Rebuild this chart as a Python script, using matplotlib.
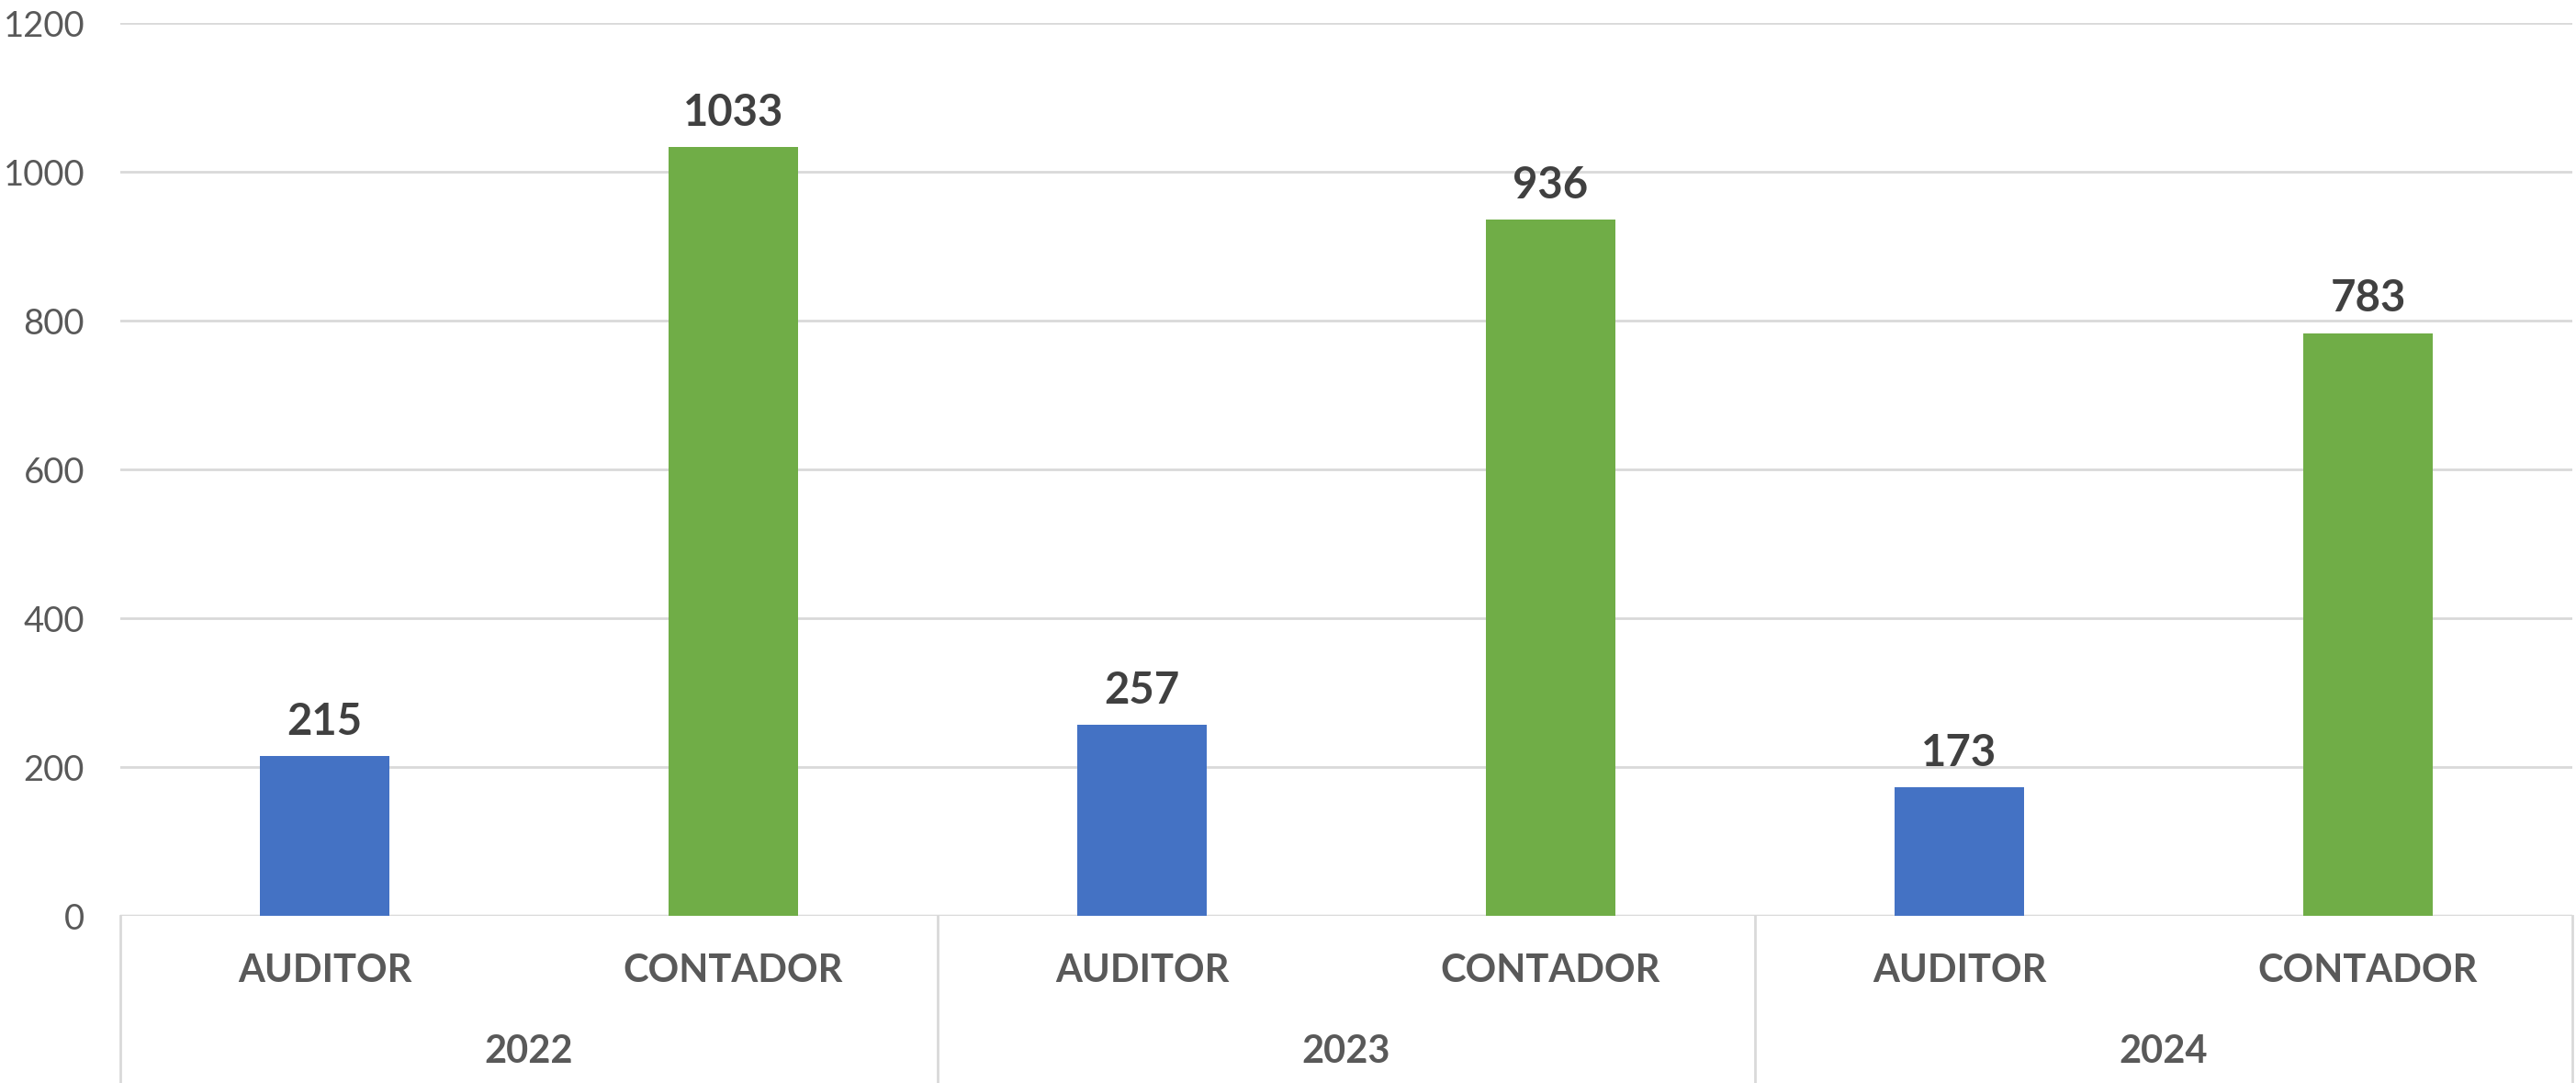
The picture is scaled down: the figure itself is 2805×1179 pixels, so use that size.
import matplotlib.pyplot as plt
import numpy as np

years = ['2022', '2023', '2024']
roles = ['AUDITOR', 'CONTADOR']
auditor = [215, 257, 173]
contador = [1033, 936, 783]
yticks = [0, 200, 400, 600, 800, 1000, 1200]

plt.rcParams['font.family'] = ['Lato', 'DejaVu Sans']

fig = plt.figure(figsize=(28.05, 11.79), dpi=100)
ax = fig.add_axes([131 / 2805, 182 / 1179, 2670 / 2805, 972 / 1179])

# interleave values: auditor, contador per year
values = []
colors = []
labels = []
for a, c in zip(auditor, contador):
    values += [a, c]
    colors += ['#4472C4', '#70AD47']
    labels += roles
x = np.arange(len(values))

bars = ax.bar(x, values, width=0.315, color=colors, zorder=3)
ax.bar_label(bars, padding=11, fontsize=34, fontweight='bold', color='#404040')

ax.set_xlim(-0.5, len(values) - 0.5)
ax.set_ylim(0, 1200)
ax.set_yticks(yticks)
ax.tick_params(axis='y', length=0, pad=28, labelsize=27.5, labelcolor='#595959')
ax.set_xticks([])
ax.grid(axis='y', color='#D9D9D9', linewidth=2, zorder=0)
for s in ax.spines.values():
    s.set_visible(False)
ax.axhline(0, color='#D9D9D9', linewidth=2.5, zorder=2)

# category labels and year groups below the axis
trans = ax.get_xaxis_transform()
for xi, lab in zip(x, labels):
    ax.text(xi, -0.0617, lab, transform=trans, ha='center', va='center',
            fontsize=30, fontweight='bold', color='#595959')
for i, yr in enumerate(years):
    ax.text(2 * i + 0.5, -0.152, yr, transform=trans, ha='center', va='center',
            fontsize=30, fontweight='bold', color='#595959')
for sep in np.arange(-0.5, len(values), 2):
    ax.plot([sep, sep], [0, -0.2], transform=trans, color='#D9D9D9',
            linewidth=2, clip_on=False)

fig.savefig('out.png', dpi=100)
